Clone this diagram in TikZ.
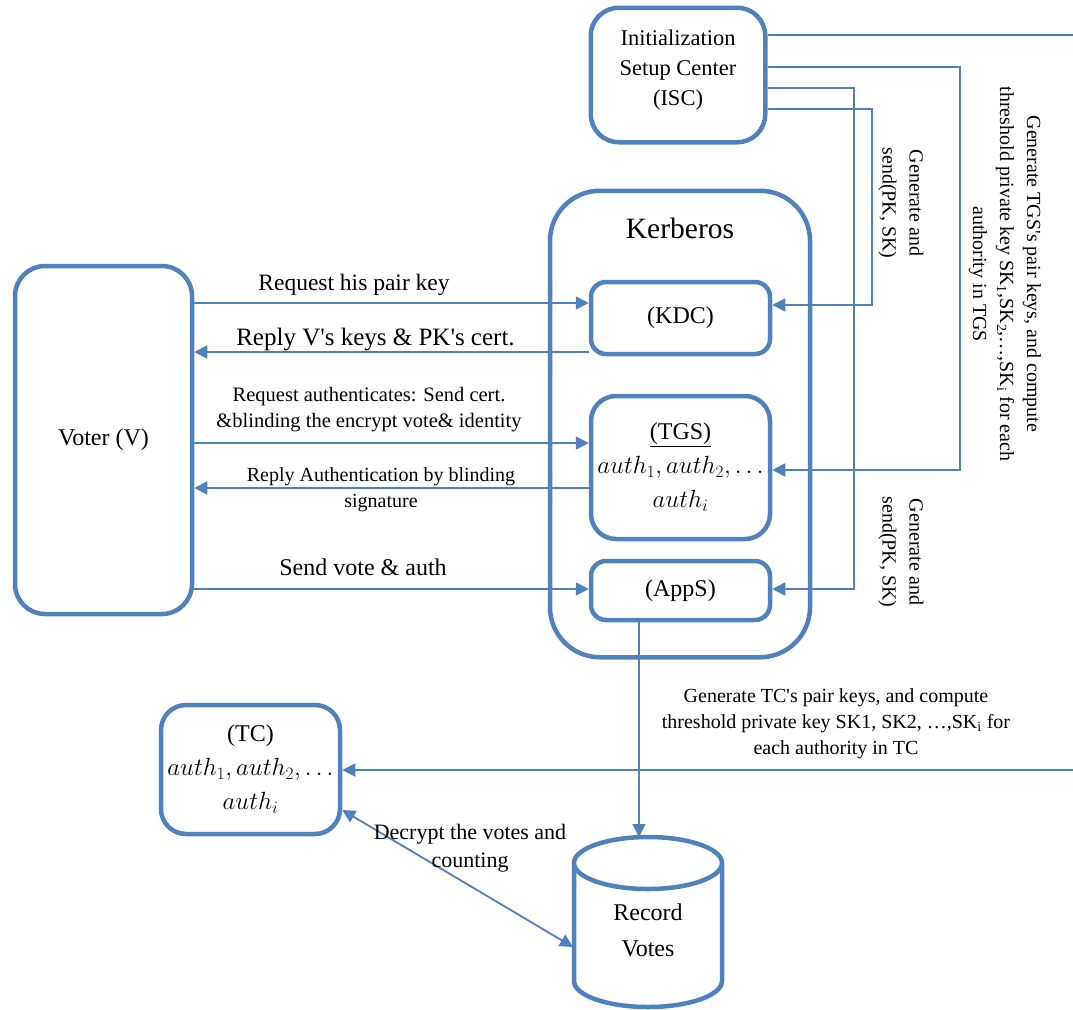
\documentclass[tikz,border=0pt]{standalone}
\usepackage{fontspec}
\setmainfont{Liberation Serif}
\usetikzlibrary{arrows.meta}
\definecolor{ob}{HTML}{4F81BD}
\newcommand\aq{\textquotesingle}
\begin{document}
\begin{tikzpicture}[x=1pt,y=-1pt,
  box/.style={draw=ob, line width=4.5pt, align=center, inner sep=0pt, fill=white},
  conn/.style={draw=ob, line width=1.8pt},
  tip/.style={-{Triangle[length=13pt,width=13pt]}},
  lbl/.style={align=center, inner sep=0pt, text=black}]
\useasboundingbox (0,0) rectangle (1073,1009);
\begin{scope}
\clip (0,0) rectangle (1073,1009);

% Kerberos container
\node[box, rounded corners=50pt, minimum width=260pt, minimum height=466.5pt] (kerb) at (680,424) {};
\node[lbl, font=\fontsize{29.5}{34}\selectfont] (kerbtitle) at (680,228) {Kerberos};

% boxes
\node[box, rounded corners=28pt, minimum width=174.5pt, minimum height=134.5pt,
      font=\fontsize{22.5}{30}\selectfont, text depth=15pt] (isc) at (678,75) {Initialization\\Setup Center\\(ISC)};
\node[box, rounded corners=30pt, minimum width=177pt, minimum height=348pt,
      font=\fontsize{24}{28}\selectfont] (voter) at (103.5,440) {Voter (V)};
\node[box, rounded corners=15pt, minimum width=179pt, minimum height=72pt,
      font=\fontsize{24}{28}\selectfont] (kdc) at (680.5,318) {(KDC)};
\node[box, rounded corners=25pt, minimum width=179pt, minimum height=143pt,
      font=\fontsize{24}{34}\selectfont] (tgs) at (680.5,467.5) {\underline{(TGS)}\\$auth_1, auth_2, \ldots$\\$auth_i$};
\node[box, rounded corners=15pt, minimum width=179pt, minimum height=59pt,
      font=\fontsize{24}{28}\selectfont] (apps) at (680.5,590.5) {(AppS)};
\node[box, rounded corners=25pt, minimum width=179pt, minimum height=129pt,
      font=\fontsize{24}{34}\selectfont] (tc) at (250.5,769.5) {(TC)\\$auth_1, auth_2, \ldots$\\$auth_i$};

% Record votes cylinder
\draw[draw=ob, line width=4.5pt, fill=white] (574,863) -- (574,981)
   arc[start angle=180, end angle=0, x radius=74, y radius=26] -- (722,863);
\draw[draw=ob, line width=4.5pt, fill=white] (648,863) ellipse [x radius=74, y radius=26];
\node[lbl, font=\fontsize{24}{36}\selectfont] (rv) at (648,930) {Record\\Votes};
\coordinate (rvtop) at (639,837);
\coordinate (rvleft) at (573,947);

% voter <-> kerberos
\draw[conn,tip] (voter.east |- 0,303) -- (kdc.west |- 0,303);
\draw[conn,tip] (kdc.west |- 0,352) -- (voter.east |- 0,352);
\draw[conn,tip] (voter.east |- 0,443) -- (tgs.west |- 0,443);
\draw[conn,tip] (tgs.west |- 0,488) -- (voter.east |- 0,488);
\draw[conn,tip] (voter.east |- 0,589) -- (apps.west |- 0,589);

% ISC connectors
\draw[conn,tip] (isc.east |- 0,35) -- (1079,35) -- (1079,770) -- (tc.east |- 0,770);
\draw[conn,tip] (isc.east |- 0,67) -- (960,67) -- (960,470) -- (tgs.east |- 0,470);
\draw[conn,tip] (isc.east |- 0,88) -- (854,88) -- (854,589) -- (apps.east |- 0,589);
\draw[conn,tip] (isc.east |- 0,109) -- (872,109) -- (872,305) -- (kdc.east |- 0,305);

% AppS -> record, TC <-> record
\draw[conn,tip] (apps.south -| rvtop) -- (rvtop);
\draw[conn,{Triangle[length=13pt,width=13pt]}-{Triangle[length=13pt,width=13pt]}] (tc.east |- 0,810) -- (rvleft);

% labels
\node[lbl, font=\fontsize{23.5}{28}\selectfont] (l1) at (354,285) {Request his pair key};
\node[lbl, font=\fontsize{25}{30}\selectfont] (l2) at (375.5,340) {Reply V\aq s keys \& PK\aq s cert.};
\node[lbl, font=\fontsize{20.5}{26}\selectfont] (l3) at (369,410) {Request authenticates: Send cert.\\\&blinding the encrypt vote\& identity};
\node[lbl, font=\fontsize{20}{26}\selectfont] (l4) at (381,490) {Reply Authentication by blinding\\signature};
\node[lbl, font=\fontsize{24}{28}\selectfont] (l5) at (363,567) {Send vote \& auth};
\node[lbl, font=\fontsize{20}{27}\selectfont, rotate=-90] (l6) at (1005,274)
  {Generate TGS\aq s pair keys, and compute\\threshold private key SK\textsubscript{1},SK\textsubscript{2},…,SK\textsubscript{i} for each\\authority in TGS};
\node[lbl, font=\fontsize{20}{27}\selectfont, rotate=-90] (l7) at (901,203) {Generate and\\send(PK, SK)};
\node[lbl, font=\fontsize{20}{27}\selectfont, rotate=-90] (l8) at (901,552) {Generate and\\send(PK, SK)};
\node[lbl, font=\fontsize{20}{26}\selectfont] (l9) at (836,724)
  {Generate TC\aq s pair keys, and compute\\threshold private key SK1, SK2, …,SK\textsubscript{i} for\\each authority in TC};
\node[lbl, font=\fontsize{22}{28}\selectfont] (l10) at (470,848) {Decrypt the votes and\\counting};
\end{scope}
\end{tikzpicture}
\end{document}
